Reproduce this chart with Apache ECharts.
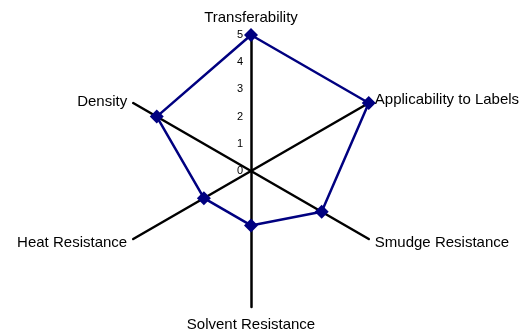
<!DOCTYPE html>
<html>
<head>
<meta charset="utf-8">
<script src="https://cdn.jsdelivr.net/npm/echarts@6/dist/echarts.min.js"></script>
<style>
  html, body { margin: 0; padding: 0; background: #fff; }
  #main { width: 531px; height: 331px; }
</style>
</head>
<body>
<div id="main"></div>
<script>
// 指标（逆时针，从顶部开始）
var indicatorNames = ['Transferability', 'Density', 'Heat Resistance', 'Solvent Resistance', 'Smudge Resistance', 'Applicability to Labels'];
var scores = [5, 4, 2, 2, 3, 5];
var maxScore = 5;

var chartDom = document.getElementById('main');
var myChart = echarts.init(chartDom);

var indicators = indicatorNames.map(function (name, i) {
  var ind = {name: name, max: maxScore, min: 0};
  //只在顶部轴显示刻度
  if (i === 0) {
    ind.axisLabel = {show: true};
  }
  return ind;
});

var textFont = 'Liberation Sans, Arial, sans-serif';

var option = {
  animation: false,
  backgroundColor: '#fff',
  radar: {
    center: [251, 171],
    radius: 136,
    startAngle: 90,
    splitNumber: 5,
    indicator: indicators,
    shape: 'polygon',
    nameGap: 7,
    axisName: {
      color: '#000',
      fontSize: 15,
      fontFamily: textFont,
      formatter: function (name) {
        //上下两个名称离轴端远一些
        if (name === indicatorNames[0]) return '{top|' + name + '}';
        if (name === indicatorNames[3]) return '{bot|' + name + '}';
        if (name === indicatorNames[1]) return '{low|' + name + '}';
        return name;
      },
      rich: {
        top: {fontSize: 15, fontFamily: textFont, color: '#000', padding: [0, 0, 3, 0]},
        bot: {fontSize: 15, fontFamily: textFont, color: '#000', padding: [3, 0, 0, 0]},
        low: {fontSize: 15, fontFamily: textFont, color: '#000', padding: [4, 0, 0, 0]}
      }
    },
    axisLine: {lineStyle: {color: '#000', width: 2.5}},
    splitLine: {show: false},
    splitArea: {show: false},
    axisTick: {show: false},
    axisLabel: {
      show: false,
      color: '#000',
      fontSize: 11,
      margin: 8,
      fontFamily: textFont
    }
  },
  series: [
    {
      type: 'radar',
      symbol: 'diamond',
      symbolSize: 14,
      lineStyle: {color: '#000080', width: 2.5},
      itemStyle: {color: '#000080'},
      data: [{value: scores, name: 'Score'}]
    }
  ]
};

option && myChart.setOption(option);
</script>
</body>
</html>
